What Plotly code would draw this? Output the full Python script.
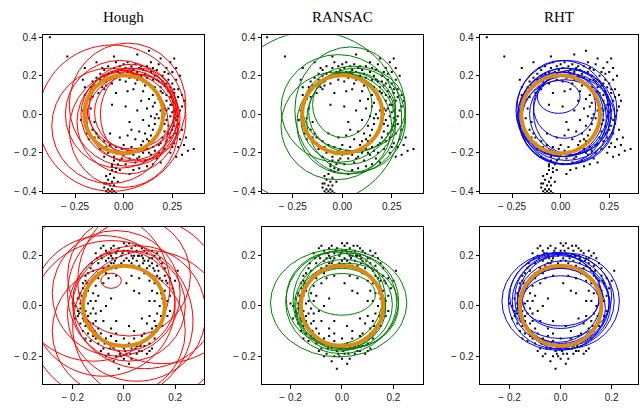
import plotly.graph_objects as go

# ---------------- data ----------------
titles = ["Hough", "RANSAC", "RHT"]
method_colors = ["#ff0000", "#008000", "#0000ff"]

top_pts = [
    (-0.17,0.14),(-0.16,0.17),(-0.15,0.15),(-0.14,0.19),(-0.13,0.16),(-0.12,0.21),(-0.12,0.18),(-0.11,0.14),(-0.10,0.20),(-0.10,0.23),
    (-0.09,0.17),(-0.08,0.21),(-0.08,0.25),(-0.07,0.19),(-0.06,0.22),(-0.06,0.16),(-0.05,0.24),(-0.04,0.20),(-0.04,0.27),(-0.03,0.22),
    (-0.02,0.18),(-0.02,0.25),(-0.01,0.23),(0.00,0.26),(0.00,0.20),(0.01,0.24),(0.02,0.22),(0.02,0.27),(0.03,0.19),(0.04,0.25),
    (0.05,0.23),(0.05,0.21),(0.06,0.26),(0.07,0.22),(0.07,0.18),(0.08,0.24),(0.09,0.20),(0.10,0.23),(0.10,0.17),(0.11,0.21),
    (0.12,0.25),(0.12,0.19),(0.13,0.16),(0.14,0.22),(0.14,0.27),(0.15,0.18),(0.16,0.20),(0.16,0.14),(0.17,0.23),(0.18,0.17),
    (0.18,0.26),(0.19,0.12),(0.20,0.20),(0.21,0.15),(0.22,0.24),(0.23,0.18),(0.24,0.27),(0.25,0.22),(0.22,0.10),(0.24,0.14),
    (-0.14,0.27),(-0.05,0.30),(0.07,0.31),(0.13,0.33),(-0.20,0.24),(0.27,0.24),(0.26,0.29),(-0.29,0.30),(-0.38,0.40),(0.19,0.29),
    (0.18,0.08),(0.20,0.05),(0.22,0.07),(0.24,0.09),(0.26,0.11),(0.28,0.13),(0.19,0.02),(0.21,0.00),(0.23,0.03),(0.25,0.05),
    (0.27,0.07),(0.29,0.02),(0.30,0.10),(0.18,-0.02),(0.20,-0.04),(0.22,-0.03),(0.24,-0.01),(0.26,-0.02),(0.28,-0.05),(0.19,-0.07),
    (0.21,-0.09),(0.23,-0.06),(0.25,-0.08),(0.27,-0.10),(0.30,-0.08),(0.17,-0.11),(0.20,-0.12),(0.22,-0.14),(0.24,-0.12),(0.26,-0.15),
    (0.29,-0.13),(0.31,-0.16),(0.32,-0.12),(0.33,-0.19),(0.36,-0.18),(0.30,-0.21),(0.27,-0.22),(0.20,0.11),(0.23,0.12),(0.26,0.02),
    (0.28,-0.01),(0.25,0.16),(0.27,0.18),(0.29,0.20),(0.31,0.07),(0.19,0.14),(0.21,-0.18),(0.24,-0.20),(0.16,-0.05),(0.15,0.04),
    (0.17,0.00),(0.26,-0.06),(0.22,0.02),(0.24,0.05),(0.30,0.04),
    (-0.15,-0.12),(-0.13,-0.15),(-0.12,-0.18),(-0.10,-0.14),(-0.09,-0.17),(-0.08,-0.20),(-0.07,-0.16),(-0.06,-0.19),(-0.05,-0.22),(-0.04,-0.17),
    (-0.03,-0.20),(-0.02,-0.24),(-0.01,-0.18),(0.00,-0.21),(0.01,-0.26),(0.02,-0.19),(0.03,-0.23),(0.04,-0.17),(0.05,-0.21),(0.06,-0.25),
    (0.07,-0.19),(0.08,-0.22),(0.09,-0.16),(0.10,-0.20),(0.11,-0.24),(0.12,-0.18),(0.13,-0.14),(0.14,-0.21),(0.15,-0.17),(0.16,-0.12),
    (0.17,-0.23),(0.18,-0.16),(0.12,-0.27),(0.05,-0.29),(-0.02,-0.29),(0.08,-0.28),(0.15,-0.26),(-0.10,-0.22),(-0.06,-0.26),(0.00,-0.16),
    (0.10,-0.14),(0.18,-0.20),(0.03,-0.31),(-0.04,-0.28),(0.19,-0.25),
    (-0.20,0.10),(-0.19,0.06),(-0.21,0.02),(-0.18,-0.02),(-0.20,-0.06),(-0.19,-0.10),(-0.17,0.12),(-0.16,-0.08),(-0.18,0.08),(-0.22,-0.03),
    (-0.17,0.03),(-0.15,-0.04),(-0.16,0.09),(-0.20,0.14),(-0.14,-0.10),(-0.21,0.18),(-0.18,-0.13),(-0.13,0.11),
    (0.02,0.12),(-0.04,0.11),(0.10,0.12),(0.13,0.08),(0.12,0.03),(0.14,-0.01),(0.10,-0.03),(0.13,-0.06),(0.08,-0.09),(0.11,-0.10),
    (0.04,-0.08),(0.02,-0.11),(-0.06,0.05),(0.05,0.13),(0.15,0.10),(0.16,0.06),(0.09,0.07),(0.03,-0.04),(0.14,-0.11),(0.12,-0.13),
    (-0.07,-0.10),(0.06,-0.13),(0.01,0.04),(0.11,0.15),(-0.10,0.13),(0.06,0.16),(0.15,-0.08),(0.07,0.02),(-0.02,-0.12),(0.16,-0.02),
    (-0.05,-0.24),(-0.06,-0.27),(-0.04,-0.30),(-0.07,-0.31),(-0.05,-0.33),(-0.08,-0.34),(-0.06,-0.35),(-0.09,-0.36),(-0.07,-0.37),(-0.05,-0.37),
    (-0.10,-0.38),(-0.08,-0.39),(-0.06,-0.39),(-0.09,-0.40),(-0.07,-0.40),(-0.05,-0.40),(-0.06,-0.41),(-0.08,-0.41),(-0.04,-0.41),(-0.10,-0.36),
    (-0.03,-0.35),(-0.06,-0.29),(-0.09,-0.32),(-0.03,-0.26),
    (-0.11,0.24),(-0.02,0.21),(0.04,0.22),(0.09,0.25),(0.15,0.24),(0.21,0.22),(0.23,0.21),(0.26,0.13),(0.28,0.09),(0.25,0.01),
    (0.27,-0.03),(0.23,-0.10),(0.21,-0.05),(0.19,-0.15),(0.25,-0.17),(0.28,-0.17),(0.22,0.16),(0.20,0.17),(0.17,0.18),(0.21,0.03),
    (-0.13,-0.12),(-0.01,-0.23),(0.07,-0.23),(0.13,-0.20),(0.16,-0.19),(-0.16,0.13),(-0.09,0.15),(0.01,0.17),(0.09,0.18),(0.14,0.15),
]

bot_pts = [
    (-0.10,0.17),(-0.09,0.20),(-0.08,0.15),(-0.07,0.18),(-0.07,0.22),(-0.06,0.16),(-0.05,0.20),(-0.05,0.23),(-0.04,0.17),(-0.03,0.21),
    (-0.03,0.19),(-0.02,0.23),(-0.02,0.16),(-0.01,0.20),(0.00,0.22),(0.00,0.18),(0.01,0.24),(0.01,0.19),(0.02,0.21),(0.03,0.17),
    (0.03,0.23),(0.04,0.20),(0.05,0.18),(0.05,0.22),(0.06,0.16),(0.07,0.20),(0.07,0.23),(0.08,0.18),(0.09,0.21),(0.09,0.15),
    (0.10,0.19),(0.11,0.17),(0.11,0.22),(0.12,0.14),(0.12,0.20),(0.13,0.16),(-0.11,0.21),(-0.12,0.14),(-0.08,0.24),(-0.04,0.24),
    (0.02,0.25),(0.06,0.24),(0.13,0.21),(0.14,0.19),(-0.06,0.19),(0.04,0.16),(-0.01,0.17),(0.08,0.22),(-0.09,0.23),(0.10,0.16),
    (0.02,0.18),(-0.03,0.15),(0.06,0.20),(0.00,0.25),(-0.05,0.17),(0.11,0.19),(0.03,0.20),(-0.07,0.13),(0.15,0.17),(-0.10,0.13),
    (-0.14,0.13),(-0.15,0.10),(-0.13,0.09),(-0.16,0.07),(-0.12,0.11),(-0.14,0.06),(-0.11,0.08),(-0.17,0.05),(-0.13,0.15),(-0.15,0.12),
    (-0.12,0.05),(-0.16,0.09),(-0.10,0.11),
    (-0.18,0.03),(-0.16,0.02),(-0.14,0.01),(-0.19,0.00),(-0.17,-0.01),(-0.15,-0.02),(-0.13,-0.03),(-0.18,-0.04),(-0.16,-0.05),(-0.14,-0.06),
    (-0.12,-0.01),(-0.19,-0.05),(-0.17,-0.07),(-0.15,-0.08),(-0.13,-0.09),(-0.11,-0.06),(-0.16,-0.10),(-0.14,-0.11),(-0.12,-0.12),(-0.20,0.01),
    (-0.15,0.04),(-0.13,0.02),(-0.11,-0.03),(-0.18,-0.02),(-0.14,-0.04),(-0.10,-0.09),(-0.17,0.01),(-0.12,-0.07),(-0.15,-0.13),(-0.13,-0.14),
    (-0.11,-0.13),(-0.10,-0.15),(-0.09,-0.11),(-0.08,-0.17),(-0.07,-0.13),(-0.06,-0.19),(-0.06,-0.15),(-0.05,-0.12),(-0.04,-0.17),(-0.03,-0.20),
    (-0.03,-0.14),(-0.02,-0.18),(-0.01,-0.16),(0.00,-0.21),(0.00,-0.13),(0.01,-0.19),(0.02,-0.15),(0.03,-0.17),(0.03,-0.21),(0.04,-0.13),
    (0.05,-0.19),(0.06,-0.15),(0.06,-0.18),(0.07,-0.12),(0.08,-0.16),(0.09,-0.19),(0.09,-0.13),(0.10,-0.15),(0.11,-0.11),(0.11,-0.17),
    (0.12,-0.13),(-0.04,-0.22),(-0.07,-0.20),(0.02,-0.23),(-0.01,-0.20),(0.05,-0.16),(-0.02,-0.25),(-0.09,-0.18),(0.07,-0.18),(-0.05,-0.09),
    (0.00,-0.17),(0.04,-0.10),(-0.08,-0.14),(0.08,-0.11),(-0.03,-0.11),(0.10,-0.18),
    (0.13,0.12),(0.15,0.10),(0.14,0.08),(0.16,0.06),(0.13,0.05),(0.15,0.03),(0.17,0.02),(0.14,0.00),(0.16,-0.01),(0.13,-0.03),
    (0.15,-0.05),(0.12,-0.06),(0.14,-0.08),(0.11,-0.09),(0.13,-0.10),(0.17,0.09),(0.18,0.04),(0.16,0.12),(0.19,0.07),(0.12,0.09),
    (0.18,0.11),(0.15,-0.08),(0.12,0.02),(0.17,-0.04),(0.14,0.11),(0.21,0.14),(0.20,0.10),(0.16,0.15),(0.11,0.06),(0.18,-0.02),
    (-0.08,0.09),(-0.06,0.11),(-0.03,0.12),(0.03,0.12),(0.06,0.11),(0.08,0.13),(-0.10,0.04),(-0.09,-0.02),(-0.07,0.00),(0.07,-0.05),
    (0.09,-0.07),(0.10,0.02),(0.04,0.06),(-0.05,0.03),(-0.03,-0.06),(0.02,-0.08),(0.10,0.10),(-0.08,-0.06),(0.06,0.05),(0.01,0.09),
    (-0.11,0.02),(0.10,-0.04),
    (-0.085,0.19),(-0.065,0.21),(-0.045,0.19),(-0.025,0.22),(-0.005,0.21),(0.015,0.22),(0.035,0.19),(0.055,0.20),(0.075,0.17),(0.095,0.18),
    (0.115,0.15),(-0.105,0.19),(-0.125,0.17),(-0.145,0.09),(-0.165,0.04),(-0.175,-0.03),(-0.155,-0.06),(-0.135,-0.08),(-0.115,-0.10),(-0.095,-0.13),
    (-0.075,-0.15),(-0.055,-0.17),(-0.035,-0.16),(-0.015,-0.19),(0.005,-0.18),(0.025,-0.19),(0.045,-0.17),(0.065,-0.16),(0.085,-0.14),(0.105,-0.12),
    (0.125,-0.08),(0.145,-0.04),(0.155,0.01),(0.145,0.05),(0.165,0.10),(0.135,0.14),(0.075,0.19),(-0.035,0.18),(0.045,0.24),(-0.055,0.21),
]

# fitted shapes per method: (cx, cy, semi-axis x, semi-axis y)
hough_top = [(-0.06,-0.02,0.38,0.38),(-0.07,-0.06,0.30,0.30),(-0.02,0.00,0.28,0.28),(0.02,0.05,0.30,0.32),
             (0.03,0.00,0.25,0.24),(0.04,0.02,0.22,0.22),(0.05,-0.02,0.24,0.23),(0.02,-0.04,0.26,0.27),
             (0.06,0.01,0.21,0.20),(0.00,-0.08,0.28,0.30),(0.04,0.04,0.23,0.22),(0.08,0.00,0.20,0.24)]
ransac_top = [(-0.15,-0.02,0.45,0.45),(0.04,0.02,0.28,0.33),(0.00,0.05,0.15,0.17),(0.03,-0.02,0.24,0.24),
              (0.05,0.01,0.22,0.21),(0.02,-0.05,0.25,0.26),(-0.02,0.03,0.29,0.28),(0.07,-0.03,0.25,0.27),
              (-0.03,-0.06,0.28,0.28),(0.06,0.03,0.26,0.22)]
rht_top = [(-0.01,0.09,0.11,0.085),(0.02,0.04,0.16,0.165),(0.02,0.01,0.23,0.23),(0.03,-0.01,0.25,0.25),
           (0.00,0.00,0.22,0.22),(0.04,-0.03,0.24,0.23),(0.01,0.03,0.235,0.25),(0.05,0.00,0.21,0.21),
           (0.02,-0.04,0.23,0.22),(0.03,0.02,0.26,0.26),(0.06,0.01,0.20,0.22),(0.01,-0.02,0.225,0.24)]
hough_bot = [(0.00,0.02,0.20,0.20),(0.02,0.00,0.22,0.22),(-0.03,0.05,0.25,0.25),(0.05,-0.03,0.27,0.27),
             (-0.08,0.00,0.28,0.28),(0.08,0.05,0.30,0.30),(-0.05,-0.06,0.32,0.32),(0.10,-0.08,0.30,0.30),
             (-0.12,0.08,0.30,0.30),(0.15,0.10,0.33,0.33),(0.02,0.12,0.24,0.24),(-0.02,-0.10,0.26,0.26),
             (-0.05,0.10,0.04,0.03)]
ransac_bot = [(-0.013,0.012,0.265,0.215),(0.00,0.046,0.13,0.083),(-0.003,0.015,0.216,0.205),(0.006,0.005,0.19,0.18),
              (-0.03,0.03,0.187,0.185),(0.02,0.00,0.20,0.17),(0.00,-0.01,0.17,0.16),(-0.01,0.02,0.18,0.20),
              (0.03,0.02,0.19,0.19)]
rht_bot = [(-0.01,0.018,0.22,0.195),(0.00,0.02,0.15,0.10),(0.00,0.02,0.19,0.18),(0.01,0.01,0.18,0.17),
           (-0.01,0.03,0.17,0.175),(0.02,0.00,0.175,0.16),(0.00,0.04,0.20,0.17),(0.01,-0.01,0.165,0.165),
           (-0.02,0.02,0.185,0.19),(0.00,0.00,0.16,0.15),(0.03,0.02,0.20,0.19),(0.00,0.03,0.15,0.12)]

truth_top = (0.0, 0.0, 0.203)
truth_bot = (0.0, 0.0, 0.16)

top_ticks_x = [-0.25, 0.0, 0.25]
top_ticks_y = [-0.4, -0.2, 0.0, 0.2, 0.4]
bot_ticks = [-0.2, 0.0, 0.2]

# ---------------- layout ----------------
W, H = 641, 408
cols_px = [(43, 204), (262, 423), (480, 638)]
rows_px = [(32, 193), (227, 388)]
top_xr = [[-0.415, 0.413], [-0.406, 0.408], [-0.415, 0.398]]
bot_xr = [[-0.316, 0.313], [-0.311, 0.315], [-0.316, 0.303]]
top_yr = [-0.41, 0.41]
bot_yr = [-0.3125, 0.316]


def lab(v, fmt):
    s = fmt.format(abs(v))
    return ("\u2212 " + s) if v < 0 else s


fig = go.Figure()
layout = dict(width=W, height=H, margin=dict(l=0, r=0, t=0, b=0),
              paper_bgcolor="white", plot_bgcolor="white", showlegend=False)
shapes = []
annotations = []
ax_style = dict(showgrid=False, zeroline=False, showline=True, linecolor="black", linewidth=1,
                mirror=True, ticks="outside", ticklen=3.5, tickwidth=1, tickcolor="black",
                tickfont=dict(family="Liberation Sans, Arial, sans-serif", size=10, color="#222"))

fits = [[hough_top, ransac_top, rht_top], [hough_bot, ransac_bot, rht_bot]]
pts = [top_pts, bot_pts]
truths = [truth_top, truth_bot]

k = 0
for r in range(2):
    for c in range(3):
        k += 1
        xa = "xaxis" + ("" if k == 1 else str(k))
        ya = "yaxis" + ("" if k == 1 else str(k))
        xref = "x" + ("" if k == 1 else str(k))
        yref = "y" + ("" if k == 1 else str(k))
        x0p, x1p = cols_px[c]
        y0p, y1p = rows_px[r]
        if r == 0:
            xr, yr = top_xr[c], top_yr
            xt, yt = top_ticks_x, top_ticks_y
            fx, fy = "{:.2f}", "{:.1f}"
        else:
            xr, yr = bot_xr[c], bot_yr
            xt, yt = bot_ticks, bot_ticks
            fx, fy = "{:.1f}", "{:.1f}"
        layout[xa] = dict(ax_style, domain=[x0p / W, x1p / W], range=xr, anchor=yref,
                          tickmode="array", tickvals=xt, ticktext=[lab(v, fx) for v in xt])
        layout[ya] = dict(ax_style, domain=[1 - y1p / H, 1 - y0p / H], range=yr, anchor=xref,
                          tickmode="array", tickvals=yt, ticktext=[lab(v, fy) for v in yt])
        p = pts[r]
        fig.add_trace(go.Scatter(x=[q[0] for q in p], y=[q[1] for q in p], mode="markers",
                                 xaxis=xref, yaxis=yref, cliponaxis=True,
                                 marker=dict(size=2, color="black", symbol="square",
                                             line=dict(width=0))))
        for (cx, cy, a, b) in fits[r][c]:
            shapes.append(dict(type="circle", xref=xref, yref=yref, x0=cx - a, x1=cx + a,
                               y0=cy - b, y1=cy + b, line=dict(color=method_colors[c], width=1)))
        tx, ty, tr = truths[r]
        shapes.append(dict(type="circle", xref=xref, yref=yref, x0=tx - tr, x1=tx + tr,
                           y0=ty - tr, y1=ty + tr, line=dict(color="#DB8A12", width=4)))
        if r == 0:
            annotations.append(dict(text=titles[c], xref="paper", yref="paper",
                                    x=(x0p + x1p) / 2 / W, y=1 - 13 / H, showarrow=False,
                                    xanchor="center", yanchor="middle",
                                    font=dict(family="Liberation Serif, Times New Roman, serif",
                                              size=15, color="black")))

layout["shapes"] = shapes
layout["annotations"] = annotations
fig.update_layout(**layout)
fig.write_html("out.html", config={"displayModeBar": False},
               post_script="document.body.style.margin='0';document.body.style.overflow='hidden';")
